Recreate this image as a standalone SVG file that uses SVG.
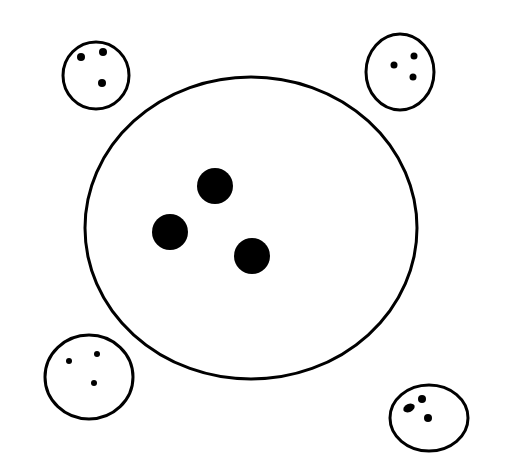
<svg xmlns="http://www.w3.org/2000/svg" width="505" height="470" viewBox="0 0 505 470">
<style>
.c{fill:none;stroke:#000;stroke-width:3}
.d{fill:#000}
</style>
<rect width="505" height="470" fill="#fff"/>
<g id="big">
<ellipse class="c" cx="251" cy="228" rx="166" ry="151"/>
<circle class="d" cx="215" cy="186" r="18"/>
<circle class="d" cx="170" cy="232" r="18"/>
<circle class="d" cx="252" cy="256" r="18"/>
</g>
<g id="tl">
<ellipse class="c" cx="96" cy="75.5" rx="33" ry="33.5"/>
<circle class="d" cx="81" cy="57" r="4"/>
<circle class="d" cx="103" cy="52" r="4"/>
<circle class="d" cx="102" cy="83" r="4"/>
</g>
<g id="tr">
<ellipse class="c" cx="400" cy="72" rx="34" ry="38"/>
<circle class="d" cx="394" cy="65" r="3.5"/>
<circle class="d" cx="414" cy="56" r="3.5"/>
<circle class="d" cx="413" cy="77" r="3.5"/>
</g>
<g id="bl">
<ellipse class="c" cx="89" cy="377" rx="44" ry="42"/>
<circle class="d" cx="69" cy="361" r="3"/>
<circle class="d" cx="97" cy="354" r="3"/>
<circle class="d" cx="94" cy="383" r="3"/>
</g>
<g id="br">
<ellipse class="c" cx="429" cy="418" rx="39" ry="33"/>
<ellipse class="d" cx="409" cy="408" rx="6" ry="4" transform="rotate(-25 409 408)"/>
<circle class="d" cx="422" cy="399" r="4"/>
<circle class="d" cx="428" cy="418" r="4"/>
</g>
<g id="connectors"/>
</svg>
